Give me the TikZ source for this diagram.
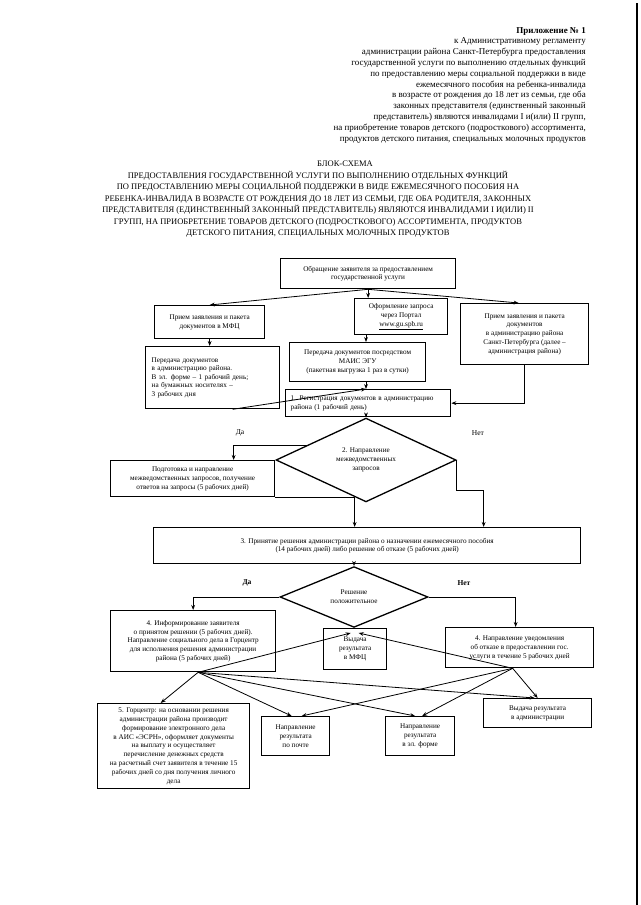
\documentclass[tikz,border=0pt]{standalone}
\usepackage{fontspec}
\setmainfont{Liberation Serif}
\usetikzlibrary{arrows.meta,shapes.geometric,calc}
\tikzset{
  box/.style={draw, line width=1.3pt, inner sep=1.5pt, align=center, anchor=north west,
    font=\fontsize{7.2}{8.8}\selectfont},
  dia/.style={draw, diamond, line width=1.3pt, inner sep=0pt, align=center,
    font=\fontsize{7.2}{8.8}\selectfont},
  arr/.style={-{Stealth[length=5pt,width=3.8pt]}, line width=0.8pt},
  lbl/.style={font=\fontsize{7.5}{9}\selectfont, inner sep=0pt},
}
\begin{document}
\begin{tikzpicture}[x=1pt,y=-1pt]
\useasboundingbox (0,0) rectangle (640,905);
\fill[white] (0,0) rectangle (640,905);
% scan edge
\draw[line width=1.3pt] (637,3) -- (637,905);

% header
\node[anchor=north east, align=right, inner sep=0pt, font=\fontsize{9}{10.8}\selectfont] (hdr) at (586,27)
{\textbf{Приложение № 1}\\
к Административному регламенту\\
администрации района Санкт-Петербурга предоставления\\
государственной услуги по выполнению отдельных функций\\
по предоставлению меры социальной поддержки в виде\\
ежемесячного пособия на ребенка-инвалида\\
в возрасте от рождения до 18 лет из семьи,  где оба\\
законных представителя (единственный  законный\\
представитель) являются инвалидами  I и(или) II групп,\\
на приобретение товаров детского  (подросткового) ассортимента,\\
продуктов детского питания, специальных молочных продуктов};

% title
\node[anchor=north, inner sep=0pt, font=\fontsize{8.5}{11}\selectfont] (t1) at (345,161) {БЛОК-СХЕМА};
\node[anchor=north, align=center, inner sep=0pt, font=\fontsize{8.5}{11.5}\selectfont] (t2) at (318,171)
{ПРЕДОСТАВЛЕНИЯ ГОСУДАРСТВЕННОЙ УСЛУГИ ПО ВЫПОЛНЕНИЮ ОТДЕЛЬНЫХ ФУНКЦИЙ\\
ПО ПРЕДОСТАВЛЕНИЮ МЕРЫ СОЦИАЛЬНОЙ ПОДДЕРЖКИ В ВИДЕ ЕЖЕМЕСЯЧНОГО ПОСОБИЯ НА\\
РЕБЕНКА-ИНВАЛИДА В ВОЗРАСТЕ ОТ РОЖДЕНИЯ ДО 18 ЛЕТ ИЗ СЕМЬИ,  ГДЕ ОБА РОДИТЕЛЯ, ЗАКОННЫХ\\
ПРЕДСТАВИТЕЛЯ (ЕДИНСТВЕННЫЙ  ЗАКОННЫЙ ПРЕДСТАВИТЕЛЬ) ЯВЛЯЮТСЯ ИНВАЛИДАМИ  I И(ИЛИ) II\\
ГРУПП, НА ПРИОБРЕТЕНИЕ ТОВАРОВ ДЕТСКОГО  (ПОДРОСТКОВОГО) АССОРТИМЕНТА, ПРОДУКТОВ\\
ДЕТСКОГО ПИТАНИЯ, СПЕЦИАЛЬНЫХ МОЛОЧНЫХ ПРОДУКТОВ};

% boxes
\node[box, minimum width=175, minimum height=30] (A) at (280,258)
 {Обращение заявителя за предоставлением\\государственной услуги};
\node[box, minimum width=110, minimum height=33] (B) at (154,305)
 {Прием заявления и пакета\\документов в МФЦ};
\node[box, minimum width=93, minimum height=36] (P0) at (354,298)
 {Оформление запроса\\через Портал\\\underline{www.gu.spb.ru}};
\node[box, minimum width=128, minimum height=61] (C) at (460,303)
 {Прием заявления и пакета\\документов\\в администрацию района\\Санкт-Петербурга (далее –\\администрация района)};
\node[box, minimum width=134, minimum height=62, text width=122, align=left, inner xsep=5pt,
  font=\fontsize{7.2}{8.4}\selectfont] (D) at (145,346)
 {Передача документов\\в администрацию района.\\В эл. форме – 1  рабочий день;\\на бумажных носителях –\\3 рабочих дня};
\node[box, minimum width=136, minimum height=39] (E) at (289,342)
 {Передача документов посредством\\МАИС ЭГУ\\(пакетная выгрузка 1 раз в сутки)};
\node[box, minimum width=165, minimum height=27, text width=155, align=left, inner xsep=4pt] (F) at (285,389)
 {1. Регистрация документов в администрацию\\района (1 рабочий день)};
\node[dia, minimum width=180, minimum height=74] (G) at (366,460)
 {2. Направление\\межведомственных\\запросов};
\node[box, minimum width=164, minimum height=36] (H) at (110,460)
 {Подготовка и направление\\межведомственных запросов, получение\\ответов на запросы (5 рабочих дней)};
\node[box, minimum width=427, minimum height=36] (J) at (153,527)
 {3. Принятие решения администрации района о назначении ежемесячного пособия\\(14 рабочих дней) либо решение об отказе (5 рабочих дней)};
\node[dia, minimum width=148, minimum height=42] (K) at (354,597)
 {Решение\\положительное};
\node[box, minimum width=165, minimum height=61] (L) at (110,610)
 {4. Информирование заявителя\\о принятом решении (5 рабочих дней).\\Направление социального дела в Горцентр\\для исполнения решения администрации\\района (5 рабочих дней)};
\node[box, minimum width=148, minimum height=40] (M) at (445,627)
 {4. Направление уведомления\\об отказе в предоставлении гос.\\услуги в течение 5 рабочих дней};
\node[box, minimum width=63, minimum height=41] (N) at (323,628)
 {Выдача\\результата\\в МФЦ};
\node[box, minimum width=152, minimum height=85] (P) at (97,703)
 {5. Горцентр: на основании решения\\администрации района производит\\формирование электронного дела\\в АИС «ЭСРН», оформляет документы\\на выплату и осуществляет\\перечисление денежных средств\\на расчетный счет заявителя в течение 15\\рабочих дней со дня получения личного\\дела};
\node[box, minimum width=68, minimum height=39] (Q) at (261,716)
 {Направление\\результата\\по почте};
\node[box, minimum width=69, minimum height=39] (R) at (385,716)
 {Направление\\результата\\в эл. форме};
\node[box, minimum width=108, minimum height=29] (S) at (483,698)
 {Выдача результата\\в администрации};

% labels
\node[lbl] (da1) at (240,433) {Да};
\node[lbl] (net1) at (478,433) {Нет};
\node[lbl, font=\bfseries\fontsize{7.5}{9}\selectfont] (da2) at (247,583) {Да};
\node[lbl, font=\bfseries\fontsize{7.5}{9}\selectfont] (net2) at (464,583) {Нет};

% connectors
\coordinate (ax) at (366,0);
\draw[arr] (A.south) -- (B.north);
\draw[arr] (A.south) -- ([xshift=-6pt]C.north);
\draw[arr] (A.south) -- (A.south |- P0.north);
\draw[arr] (B.south) -- (B.south |- D.north);
\draw[arr] (ax |- P0.south) -- (ax |- E.north);
\draw[arr] (ax |- E.south) -- (ax |- F.north);
\draw[arr] ([xshift=20pt]D.south) -- (ax |- F.north);
\draw[arr] (C.south) |- (F.east);
\draw[arr] (ax |- F.south) -- (G.north);
\coordinate (g1) at ($(G.west)!0.35!(G.north)$);
\draw[arr] (g1) -| ([xshift=41pt]H.north);
\draw[arr] (H.south east) -| ([xshift=-12.5pt]J.north);
\draw[arr] (G.east) -- ++(0,30) -| ([xshift=116.5pt]J.north);
\draw[arr] (K.north |- J.south) -- (K.north);
\draw[arr] (K.west) -| (L.north);
\draw[arr] (K.east) -| ([xshift=-4pt]M.north);

\coordinate (ls) at ([xshift=5pt]L.south);
\coordinate (ms) at ([xshift=-7pt]M.south);
\draw[arr] (ls) -- ([xshift=-4.5pt,yshift=-5pt]N.north);
\draw[arr] (ls) -- ([xshift=-13pt]P.north);
\draw[arr] (ls) -- ([xshift=-4pt]Q.north);
\draw[arr] (ls) -- ([xshift=-5pt]R.north);
\draw[arr] (ls) -- ([xshift=-3pt]S.north);
\draw[arr] (ms) -- ([xshift=3.5pt,yshift=-5pt]N.north);
\draw[arr] (ms) -- ([xshift=6pt]Q.north);
\draw[arr] (ms) -- ([xshift=2pt]R.north);
\draw[arr] (ms) -- (S.north);
\end{tikzpicture}
\end{document}
